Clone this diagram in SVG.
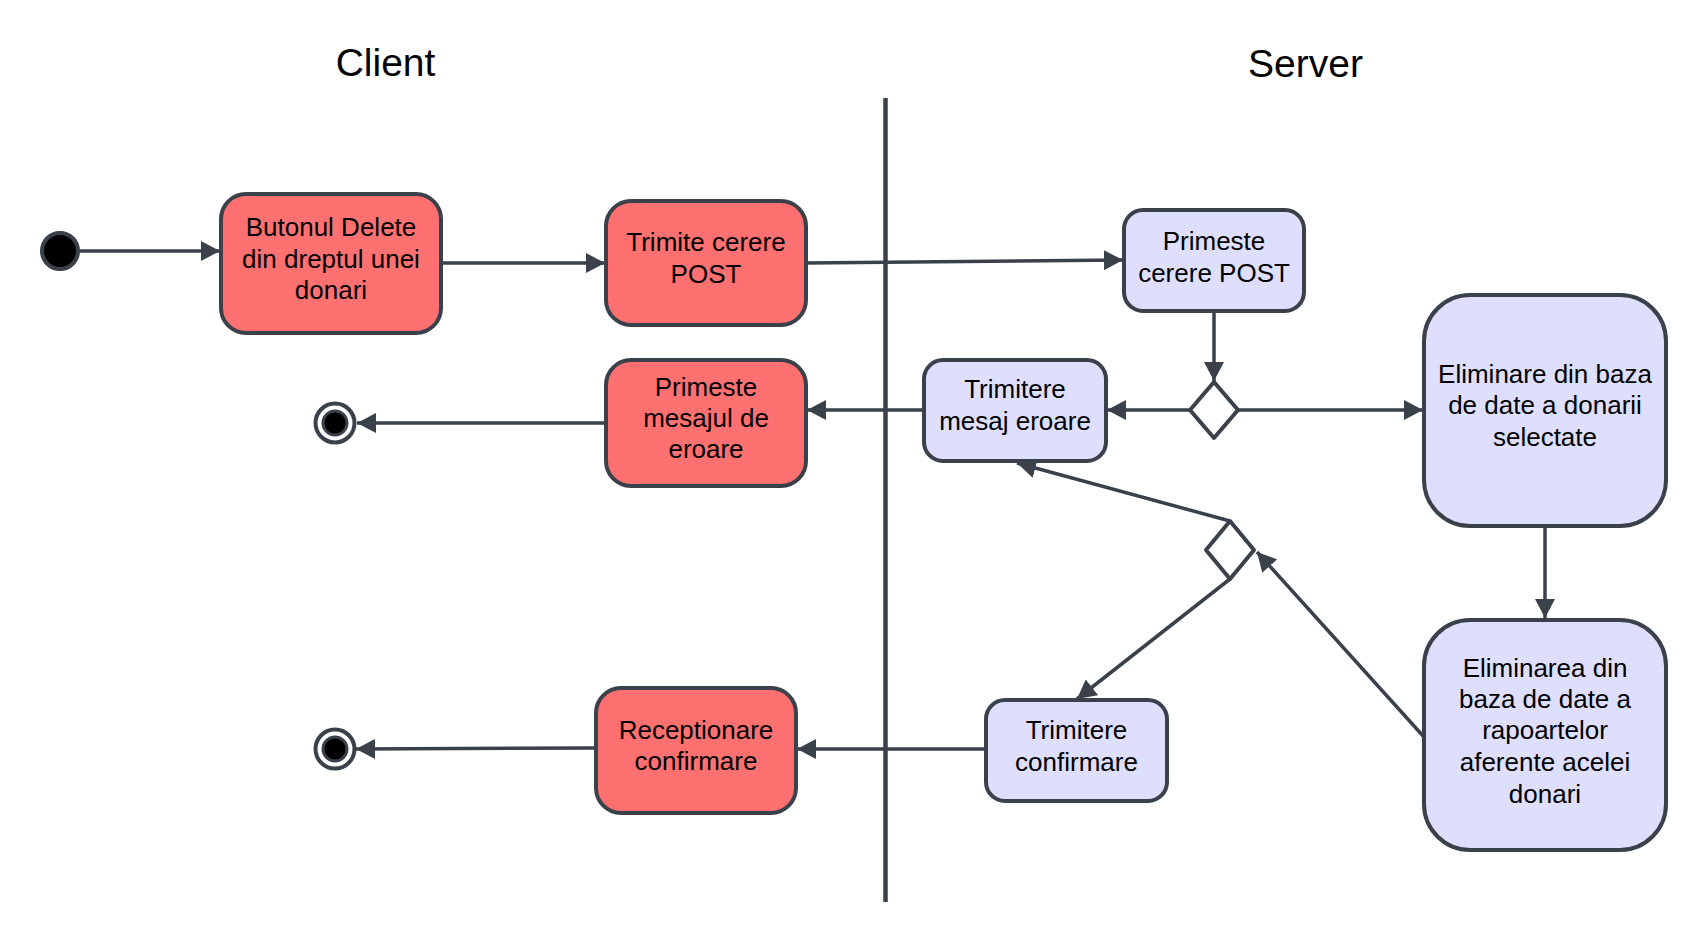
<svg xmlns="http://www.w3.org/2000/svg" width="1705" height="940" viewBox="0 0 1705 940">
  <defs>
    <marker id="arr" markerUnits="userSpaceOnUse" markerWidth="20" markerHeight="20" refX="19" refY="10" orient="auto">
      <path d="M0,0 L19,10 L0,20 z" fill="#3a414a"/>
    </marker>
    <style>
      .red { fill: #ff7070; stroke: #3a414a; stroke-width: 4; }
      .lav { fill: #dedeff; stroke: #3a414a; stroke-width: 4; }
      .lbl { font-family: "Liberation Sans", Arial, sans-serif; font-size: 26px; fill: #000; text-anchor: middle; }
      .title { font-family: "Liberation Sans", Arial, sans-serif; font-size: 39px; fill: #000; text-anchor: middle; }
      .con { fill: none; stroke: #3a414a; stroke-width: 3.5; marker-end: url(#arr); }
      .dia { fill: #fff; stroke: #3a414a; stroke-width: 4; stroke-linejoin: round; }
    </style>
  </defs>
  <rect width="1705" height="940" fill="#fff"/>

  <g id="titles">
    <text class="title" x="385.5" y="76">Client</text>
    <text class="title" x="1305.5" y="77">Server</text>
  </g>

  <g id="lane">
    <line x1="885.5" y1="98" x2="885.5" y2="902" stroke="#3a414a" stroke-width="4.5"/>
  </g>

  <g id="connectors">
    <line class="con" x1="80" y1="251" x2="220" y2="251"/>
    <line class="con" x1="441" y1="263" x2="605" y2="263"/>
    <line class="con" x1="806" y1="263" x2="1123" y2="260"/>
    <line class="con" x1="1214" y1="311" x2="1214" y2="381"/>
    <line class="con" x1="1190" y1="410" x2="1107" y2="410"/>
    <line class="con" x1="1238" y1="410" x2="1423" y2="410"/>
    <line class="con" x1="924" y1="410" x2="807" y2="410"/>
    <line class="con" x1="605" y1="423" x2="357" y2="423"/>
    <line class="con" x1="1545" y1="526" x2="1545" y2="618"/>
    <line class="con" x1="1424" y1="737" x2="1257" y2="552"/>
    <line class="con" x1="1230" y1="521" x2="1017" y2="463"/>
    <line class="con" x1="1230" y1="579" x2="1077" y2="699"/>
    <line class="con" x1="986" y1="749" x2="797" y2="749"/>
    <line class="con" x1="595" y1="748" x2="356" y2="749"/>
  </g>

  <g id="start">
    <circle cx="60" cy="251" r="18" fill="#000" stroke="#3a414a" stroke-width="4"/>
  </g>

  <g id="end1">
    <circle cx="335" cy="423" r="19.5" fill="#fff" stroke="#3a414a" stroke-width="4"/>
    <circle cx="335" cy="423" r="12" fill="#000" stroke="#3a414a" stroke-width="3"/>
  </g>

  <g id="end2">
    <circle cx="335" cy="749" r="19.5" fill="#fff" stroke="#3a414a" stroke-width="4"/>
    <circle cx="335" cy="749" r="12" fill="#000" stroke="#3a414a" stroke-width="3"/>
  </g>

  <g id="butonul-delete">
    <rect class="red" x="221" y="194" width="220" height="139" rx="25"/>
    <text class="lbl" x="331" y="236">Butonul Delete</text>
    <text class="lbl" x="331" y="268">din dreptul unei</text>
    <text class="lbl" x="331" y="299">donari</text>
  </g>

  <g id="trimite-cerere">
    <rect class="red" x="606" y="201" width="200" height="124" rx="25"/>
    <text class="lbl" x="706" y="251">Trimite cerere</text>
    <text class="lbl" x="706" y="283">POST</text>
  </g>

  <g id="primeste-cerere">
    <rect class="lav" x="1124" y="210" width="180" height="101" rx="19"/>
    <text class="lbl" x="1214" y="250">Primeste</text>
    <text class="lbl" x="1214" y="282">cerere POST</text>
  </g>

  <g id="decision1">
    <path class="dia" d="M1214,382 L1238,410 L1214,438 L1190,410 Z"/>
  </g>

  <g id="trimitere-mesaj-eroare">
    <rect class="lav" x="924" y="360" width="182" height="101" rx="19"/>
    <text class="lbl" x="1015" y="398">Trimitere</text>
    <text class="lbl" x="1015" y="430">mesaj eroare</text>
  </g>

  <g id="primeste-mesajul">
    <rect class="red" x="606" y="360" width="200" height="126" rx="25"/>
    <text class="lbl" x="706" y="396">Primeste</text>
    <text class="lbl" x="706" y="427">mesajul de</text>
    <text class="lbl" x="706" y="458">eroare</text>
  </g>

  <g id="eliminare-donare">
    <rect class="lav" x="1424" y="295" width="242" height="231" rx="46"/>
    <text class="lbl" x="1545" y="383">Eliminare din baza</text>
    <text class="lbl" x="1545" y="414">de date a donarii</text>
    <text class="lbl" x="1545" y="446">selectate</text>
  </g>

  <g id="decision2">
    <path class="dia" d="M1230,521 L1254,550 L1230,579 L1206,550 Z"/>
  </g>

  <g id="eliminare-rapoarte">
    <rect class="lav" x="1424" y="620" width="242" height="230" rx="46"/>
    <text class="lbl" x="1545" y="677">Eliminarea din</text>
    <text class="lbl" x="1545" y="708">baza de date a</text>
    <text class="lbl" x="1545" y="739">rapoartelor</text>
    <text class="lbl" x="1545" y="771">aferente acelei</text>
    <text class="lbl" x="1545" y="803">donari</text>
  </g>

  <g id="trimitere-confirmare">
    <rect class="lav" x="986" y="700" width="181" height="101" rx="19"/>
    <text class="lbl" x="1076.5" y="739">Trimitere</text>
    <text class="lbl" x="1076.5" y="771">confirmare</text>
  </g>

  <g id="receptionare-confirmare">
    <rect class="red" x="596" y="688" width="200" height="125" rx="25"/>
    <text class="lbl" x="696" y="739">Receptionare</text>
    <text class="lbl" x="696" y="770">confirmare</text>
  </g>
</svg>
